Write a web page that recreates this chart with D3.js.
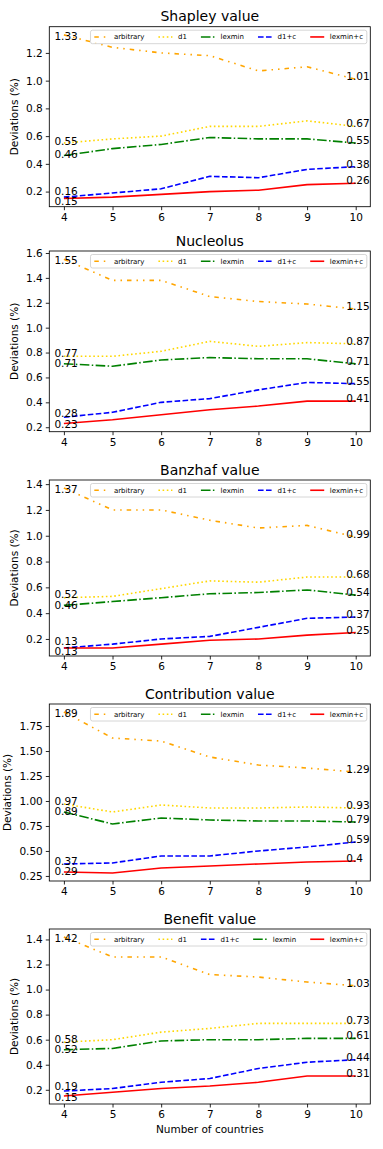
<!DOCTYPE html>
<html>
<head>
<meta charset="utf-8">
<script src="https://cdn.jsdelivr.net/npm/d3@7"></script>
<style>
  body { margin: 0; background: #fff; }
  svg { display: block; font-family: "DejaVu Sans", sans-serif; }
</style>
</head>
<body>
<svg width="383" height="1149"></svg>
<script>
// x values shared by every panel
var countries = [4, 5, 6, 7, 8, 9, 10];
var seriesNames = ["arbitrary", "d1", "lexmin", "d1+c", "lexmin+c"];
var panelTitles = ["Shapley value", "Nucleolus", "Banzhaf value", "Contribution value", "Benefit value"];

// deviations (%) per panel, rows follow seriesNames
var shapleyValues = [
    [1.33, 1.24, 1.20, 1.18, 1.07, 1.10, 1.01],
    [0.55, 0.58, 0.60, 0.67, 0.67, 0.71, 0.67],
    [0.46, 0.51, 0.54, 0.59, 0.58, 0.58, 0.55],
    [0.16, 0.19, 0.22, 0.31, 0.30, 0.36, 0.38],
    [0.15, 0.16, 0.18, 0.20, 0.21, 0.25, 0.26]
];
var nucleolusValues = [
    [1.55, 1.38, 1.38, 1.25, 1.21, 1.19, 1.15],
    [0.77, 0.77, 0.81, 0.89, 0.85, 0.88, 0.87],
    [0.71, 0.69, 0.74, 0.76, 0.75, 0.75, 0.71],
    [0.28, 0.32, 0.40, 0.43, 0.50, 0.56, 0.55],
    [0.23, 0.26, 0.30, 0.34, 0.37, 0.41, 0.41]
];
var banzhafValues = [
    [1.37, 1.20, 1.20, 1.12, 1.06, 1.08, 0.99],
    [0.52, 0.53, 0.59, 0.65, 0.64, 0.68, 0.68],
    [0.46, 0.49, 0.52, 0.55, 0.56, 0.58, 0.54],
    [0.13, 0.16, 0.20, 0.22, 0.29, 0.36, 0.37],
    [0.13, 0.13, 0.16, 0.19, 0.20, 0.23, 0.25]
];
var contributionValues = [
    [1.89, 1.63, 1.60, 1.44, 1.36, 1.33, 1.29],
    [0.97, 0.89, 0.96, 0.93, 0.93, 0.94, 0.93],
    [0.89, 0.77, 0.83, 0.81, 0.80, 0.80, 0.79],
    [0.37, 0.38, 0.45, 0.45, 0.50, 0.54, 0.59],
    [0.29, 0.28, 0.33, 0.35, 0.37, 0.39, 0.40]
];
var benefitValues = [
    [1.42, 1.26, 1.26, 1.12, 1.10, 1.06, 1.03],
    [0.58, 0.60, 0.66, 0.69, 0.73, 0.73, 0.73],
    [0.52, 0.53, 0.59, 0.60, 0.60, 0.61, 0.61],
    [0.19, 0.21, 0.26, 0.29, 0.37, 0.42, 0.44],
    [0.15, 0.18, 0.21, 0.23, 0.26, 0.31, 0.31]
];
var panelValues = [shapleyValues, nucleolusValues, banzhafValues, contributionValues, benefitValues];

// y tick labels per panel
var yTicks = [
    ["0.2", "0.4", "0.6", "0.8", "1.0", "1.2"],
    ["0.2", "0.4", "0.6", "0.8", "1.0", "1.2", "1.4", "1.6"],
    ["0.2", "0.4", "0.6", "0.8", "1.0", "1.2", "1.4"],
    ["0.25", "0.50", "0.75", "1.00", "1.25", "1.50", "1.75"],
    ["0.2", "0.4", "0.6", "0.8", "1.0", "1.2", "1.4"]
];
// legend order differs in the last panel
var legendOrders = [
    ["arbitrary", "d1", "lexmin", "d1+c", "lexmin+c"],
    ["arbitrary", "d1", "lexmin", "d1+c", "lexmin+c"],
    ["arbitrary", "d1", "lexmin", "d1+c", "lexmin+c"],
    ["arbitrary", "d1", "lexmin", "d1+c", "lexmin+c"],
    ["arbitrary", "d1", "d1+c", "lexmin", "lexmin+c"]
];

var styles = {
    "arbitrary": { color: "#FFA500", dash: "4.5,5,1.5,5,1.5,5" },
    "d1":        { color: "#FFD700", dash: "1.6,2.6" },
    "lexmin":    { color: "#008000", dash: "9.6,2.4,1.5,2.4" },
    "d1+c":      { color: "#0000FF", dash: "5.6,2.4" },
    "lexmin+c":  { color: "#FF0000", dash: null }
};

function main() {
    var svg = d3.select("svg");
    var left = 49.3, right = 370.3;
    // axes boxes (top, bottom) of the five stacked panels
    var boxes = [[26.7, 206.7], [251, 431.7], [480, 656], [704, 881], [929, 1104]];

    panelValues.forEach(function (values, p) {
        var top = boxes[p][0], bottom = boxes[p][1];
        var g = svg.append("g");

        var all = d3.merge(values);
        var lo = d3.min(all), hi = d3.max(all), pad = (hi - lo) * 0.05;
        var x = d3.scaleLinear().domain([3.7, 10.3]).range([left, right]);
        var y = d3.scaleLinear().domain([lo - pad, hi + pad]).range([bottom, top]);

        // y axis
        var yAxis = g.append("g")
            .attr("transform", "translate(" + left + ",0)")
            .call(d3.axisLeft(y)
                .tickValues(yTicks[p].map(Number))
                .tickFormat(function (d, i) { return yTicks[p][i]; })
                .tickSize(3.5).tickPadding(3));
        yAxis.select(".domain").remove();

        var xAxis = g.append("g")
            .attr("transform", "translate(0," + bottom + ")")
            .call(d3.axisBottom(x).tickValues(countries).tickFormat(d3.format("d"))
                .tickSize(3.5).tickPadding(3));
        xAxis.select(".domain").remove();

        [yAxis, xAxis].forEach(function (a) {
            a.selectAll("text").style("font-size", "10.5px").style("font-family", "DejaVu Sans").attr("fill", "#000");
            a.selectAll("line").attr("stroke", "#000").attr("stroke-width", 0.85);
        });

        // series lines
        var line = d3.line()
            .x(function (d, i) { return x(countries[i]); })
            .y(function (d) { return y(d); });

        values.forEach(function (vals, s) {
            var st = styles[seriesNames[s]];
            g.append("path")
                .attr("d", line(vals))
                .attr("fill", "none")
                .attr("stroke", st.color)
                .attr("stroke-width", 1.6)
                .attr("stroke-dasharray", st.dash);
        });

        // end-point value labels, nudged apart so they don't collide
        function placeLabels(idx, offset) {
            var items = values.map(function (vals, s) {
                return { v: vals[idx], s: s, y: y(vals[idx]) + offset };
            });
            items.sort(function (a, b) { return a.y - b.y; });
            for (var it = 0; it < 30; it++) {
                for (var i = 1; i < items.length; i++) {
                    var gap = items[i].y - items[i - 1].y;
                    if (gap < 10.5) {
                        var push = (10.5 - gap) / 2;
                        items[i - 1].y -= push;
                        items[i].y += push;
                    }
                }
                items.forEach(function (d) {
                    d.y = Math.max(top + 13, Math.min(bottom - 1, d.y));
                });
            }
            items.forEach(function (d) {
                g.append("text")
                    .attr("x", x(countries[idx]) - 9.5)
                    .attr("y", d.y)
                    .style("font-size", "10.5px")
                    .text(String(+d.v.toFixed(2)));
            });
        }
        placeLabels(0, 2);
        placeLabels(countries.length - 1, 1);

        // frame
        g.append("rect")
            .attr("x", left).attr("y", top)
            .attr("width", right - left).attr("height", bottom - top)
            .attr("fill", "none").attr("stroke", "#000").attr("stroke-width", 0.85);

        // title
        g.append("text")
            .attr("x", (left + right) / 2)
            .attr("y", top - 5.5)
            .attr("text-anchor", "middle")
            .style("font-size", "14px")
            .text(panelTitles[p]);

        // y label next to the widest tick label
        var tickLeft = d3.min(yAxis.selectAll("text").nodes(), function (n) {
            return n.getBBox().x;
        }) + left;
        var ly = tickLeft - 8;
        g.append("text")
            .attr("transform", "translate(" + ly + "," + ((top + bottom) / 2) + ") rotate(-90)")
            .attr("text-anchor", "middle")
            .style("font-size", "10.5px")
            .text("Deviations (%)");

        if (p === panelValues.length - 1) {
            g.append("text")
                .attr("x", (left + right) / 2)
                .attr("y", bottom + 28.7)
                .attr("text-anchor", "middle")
                .style("font-size", "10.5px")
                .text("Number of countries");
        }

        // legend, five columns in one row, upper right
        var fs = 7, handleLen = 14, handlePad = 5.6, colSpace = 14, border = 2.8;
        var leg = g.append("g");
        var box = leg.append("rect")
            .attr("fill", "#fff").attr("fill-opacity", 0.8)
            .attr("stroke", "#ccc").attr("stroke-width", 0.8)
            .attr("rx", 2);
        var cx = 0;
        legendOrders[p].forEach(function (name, k) {
            var st = styles[name];
            leg.append("line")
                .attr("x1", cx).attr("x2", cx + handleLen)
                .attr("y1", 0).attr("y2", 0)
                .attr("stroke", st.color).attr("stroke-width", 1.6)
                .attr("stroke-dasharray", st.dash);
            var t = leg.append("text")
                .attr("x", cx + handleLen + handlePad)
                .attr("y", 2.5)
                .style("font-size", fs + "px")
                .text(name);
            cx += handleLen + handlePad + t.node().getComputedTextLength() + colSpace;
        });
        var legW = cx - colSpace + 2 * border + 2;
        var legH = 13.5;
        var lx = right - 3.5 - legW + border + 1, lyTop = top + 3.5;
        box.attr("x", -border - 1).attr("y", -legH / 2).attr("width", legW).attr("height", legH);
        leg.attr("transform", "translate(" + lx + "," + (lyTop + legH / 2) + ")");
    });
}
main();
</script>
</body>
</html>
